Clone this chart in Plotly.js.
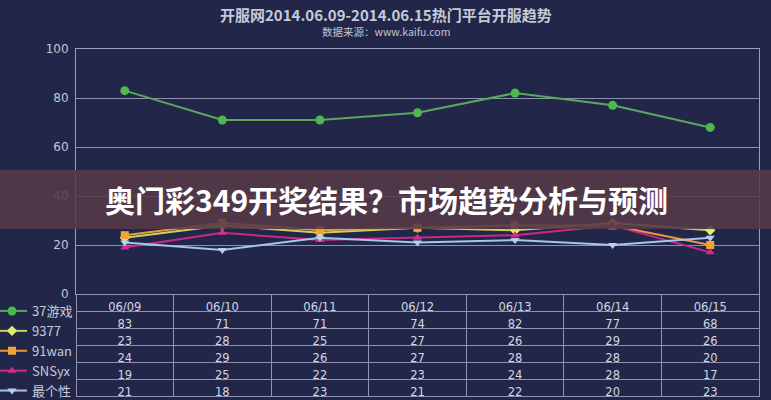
<!DOCTYPE html>
<html>
<head>
<meta charset="utf-8">
<script src="https://cdn.plot.ly/plotly-3.0.1.min.js"></script>
<style>html,body{margin:0;padding:0;background:#222749;}#chart{width:771px;height:400px;}</style>
</head>
<body>
<div id="chart"></div>
<script>
const dates = ["06/09","06/10","06/11","06/12","06/13","06/14","06/15"];
const seriesNames = ["37游戏","9377","91wan","SNSyx","最个性"];
const s37 = [83,71,71,74,82,77,68];
const s9377 = [23,28,25,27,26,29,26];
const s91wan = [24,29,26,27,28,28,20];
const sSNSyx = [19,25,22,23,24,28,17];
const sZgx = [21,18,23,21,22,20,23];
const yTicks = [0,20,40,60,80,100];
const titleText = "开服网2014.06.09-2014.06.15热门平台开服趋势";
const subtitleText = "数据来源：www.kaifu.com";
const bannerText = "奥门彩349开奖结果？市场趋势分析与预测";

const allSeries = [s37, s9377, s91wan, sSNSyx, sZgx];
const styles = [
  {line:"#5aa85c", marker:"#4cb84e", symbol:"circle", size:9},
  {line:"#cdcf5a", marker:"#d9f06a", symbol:"diamond", size:8},
  {line:"#e89a3c", marker:"#f4a238", symbol:"square", size:8},
  {line:"#c82a86", marker:"#d62a8c", symbol:"triangle-up", size:8},
  {line:"#a8c4ec", marker:"#b4cef4", symbol:"triangle-down", size:8}
];

const xDom = [76/771, 759/771];
const traces = allSeries.map((vals, i) => ({
  type: "scatter", mode: "lines+markers",
  x: dates, y: vals, name: seriesNames[i],
  xaxis: "x", yaxis: "y",
  line: {color: styles[i].line, width: 2},
  marker: {color: styles[i].marker, symbol: styles[i].symbol, size: styles[i].size}
}));

// table: header dates, rows = series values per date
const cellCols = dates.map((d, j) => allSeries.map(s => String(s[j])));
traces.push({
  type: "table",
  domain: {x: xDom, y: [0, 106/400]},
  columnwidth: dates.map(() => 1),
  header: {
    values: dates, height: 17, align: "center",
    fill: {color: "#222749"}, line: {color: "#8f93ad", width: 1},
    font: {family: "DejaVu Sans, sans-serif", size: 11.5, color: "#d4d6e2"}
  },
  cells: {
    values: cellCols, height: 17, align: "center",
    fill: {color: "#222749"}, line: {color: "#8f93ad", width: 1},
    font: {family: "DejaVu Sans, sans-serif", size: 11.5, color: "#d4d6e2"}
  },
  showlegend: false
});

const layout = {
  width: 771, height: 400,
  margin: {l: 0, r: 0, t: 0, b: 0, autoexpand: false},
  paper_bgcolor: "#222749", plot_bgcolor: "#222749",
  font: {family: "DejaVu Sans, Noto Sans CJK SC, sans-serif", color: "#c8cad8"},
  xaxis: {
    domain: xDom, range: [-0.5, 6.5], type: "category",
    showticklabels: false, showgrid: false, zeroline: false,
    showline: true, mirror: true, linecolor: "#9b9eb8", linewidth: 1, ticks: ""
  },
  yaxis: {
    domain: [106/400, 351/400], range: [0, 100],
    tickvals: yTicks, ticktext: yTicks.map(String),
    tickfont: {size: 12, color: "#c4c6d6", family: "DejaVu Sans, sans-serif"},
    showgrid: true, gridcolor: "#8e91ad", gridwidth: 1, zeroline: false,
    showline: true, mirror: true, linecolor: "#9b9eb8", linewidth: 1, ticks: "", ticklen: 0,
    ticklabelstandoff: 4
  },
  showlegend: true,
  legend: {
    x: -8/771, xanchor: "left", y: 1 - 296/400, yanchor: "top",
    bgcolor: "rgba(0,0,0,0)", itemwidth: 30,
    font: {family: "Noto Sans CJK SC, DejaVu Sans, sans-serif", size: 13, color: "#c8cad8"},
    tracegroupgap: 0
  },
  annotations: [
    {text: "<b>" + titleText + "</b>", xref: "paper", yref: "paper", x: 0.5, y: 1 - 14/400,
     showarrow: false, xanchor: "center", yanchor: "middle",
     font: {family: "Noto Sans CJK SC, sans-serif", size: 15, color: "#c6cad8"}},
    {text: subtitleText, xref: "paper", yref: "paper", x: 0.5, y: 1 - 31/400,
     showarrow: false, xanchor: "center", yanchor: "middle",
     font: {family: "Noto Sans CJK SC, sans-serif", size: 10.5, color: "#c0c4d2"}},
    {text: "<b>" + bannerText + "</b>", xref: "paper", yref: "paper", x: 386/771, y: 1 - 199/400,
     showarrow: false, xanchor: "center", yanchor: "middle",
     font: {family: "Noto Sans CJK SC, sans-serif", size: 30, color: "#ffffff"}}
  ],
  shapes: [
    {type: "rect", xref: "paper", yref: "paper", x0: 0, x1: 1, y0: 1 - 229/400, y1: 1 - 170/400,
     fillcolor: "rgba(86,58,72,0.88)", line: {width: 0}, layer: "above"}
  ]
};

Plotly.newPlot("chart", traces, layout, {displayModeBar: false, staticPlot: true});
</script>
</body>
</html>
